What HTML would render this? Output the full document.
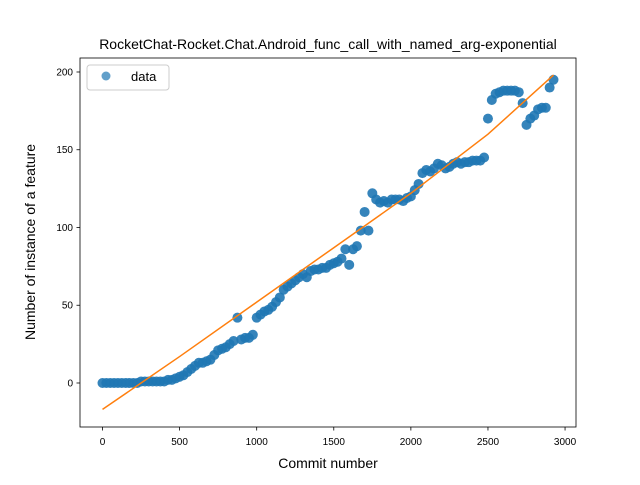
<!DOCTYPE html>
<html><head><meta charset="utf-8"><style>body{margin:0;background:#fff}svg{font-family:"Liberation Sans","DejaVu Sans",sans-serif}</style></head>
<body>
<svg id="chart" width="640" height="480">
<text x="328" y="49" text-anchor="middle" font-size="14">RocketChat-Rocket.Chat.Android_func_call_with_named_arg-exponential</text>
<g id="plot"></g>
<rect x="80" y="58" width="496" height="369" fill="none" stroke="#000" stroke-width="0.8"/>
<text x="328" y="468" text-anchor="middle" font-size="14">Commit number</text>
<text transform="translate(35,242) rotate(-90)" text-anchor="middle" font-size="14">Number of instance of a feature</text>
<g>
<rect x="87" y="65" width="82" height="25" rx="3" fill="#fff" stroke="#ccc"/>
<circle cx="106" cy="76" r="4.5" fill="#1f77b4" fill-opacity="0.7"/>
<text x="131" y="81" font-size="13">data</text>
</g>
</svg>
<script>
const commitStep=25;
const counts=[0,0,0,0,0,0,0,0,0,0,1,1,1,1,1,1,
1,2,2,3,4,5,7,9,11,13,13,14,15,18,21,22,23,25,27,42,28,29,29,31,
42,44,46,47,49,52,55,60,62,64,66,68,70,68,72,73,73,74,74,76,77,78,80,86,76,86,88,98,110,98,122,118,116,117,116,118,118,118,117,119,
120,124,128,135,137,136,138,141,140,138,139,141,142,141,142,142,143,143,143,145,170,182,186,187,188,188,188,188,187,180,166,170,172,176,177,177,190,195];
const commits=counts.map((_,i)=>i*commitStep);
const fitX=[0,500,1000,1500,2000,2500,2925];
const fitY=[-17,17,52,87,122,160,198];
const xTicks=[0,500,1000,1500,2000,2500,3000];
const yTicks=[0,50,100,150,200];
const xMin=-146,xMax=3071,yMin=-28.3,yMax=209;
const X=v=>80+(v-xMin)/(xMax-xMin)*496;
const Y=v=>427-(v-yMin)/(yMax-yMin)*369;
const ns="http://www.w3.org/2000/svg";
const g=document.getElementById('plot');
function mk(t,a){const e=document.createElementNS(ns,t);for(const k in a)e.setAttribute(k,a[k]);g.appendChild(e);return e;}
xTicks.forEach(t=>{
 const l=mk('line',{x1:X(t),x2:X(t),y1:427,y2:430.5,stroke:'#000','stroke-width':0.8});
 
 
 const s=mk('text',{x:X(t),y:445,'text-anchor':'middle','font-size':10});s.textContent=t;
 
 
});
yTicks.forEach(t=>{
 const l=mk('line',{x1:76.5,x2:80,y1:Y(t),y2:Y(t),stroke:'#000','stroke-width':0.8});
 
 
 const s=mk('text',{x:73,y:Y(t)+3.5,'text-anchor':'end','font-size':10});s.textContent=t;
 
 
});
commits.forEach((c,i)=>{
 const p=mk('circle',{cx:X(c),cy:Y(counts[i]),r:5,fill:'#1f77b4','fill-opacity':0.9});
 
 
});
const pl=mk('polyline',{points:fitX.map((x,i)=>X(x)+','+Y(fitY[i])).join(' '),fill:'none',stroke:'#ff7f0e','stroke-width':1.5});


</script>
</body></html>
